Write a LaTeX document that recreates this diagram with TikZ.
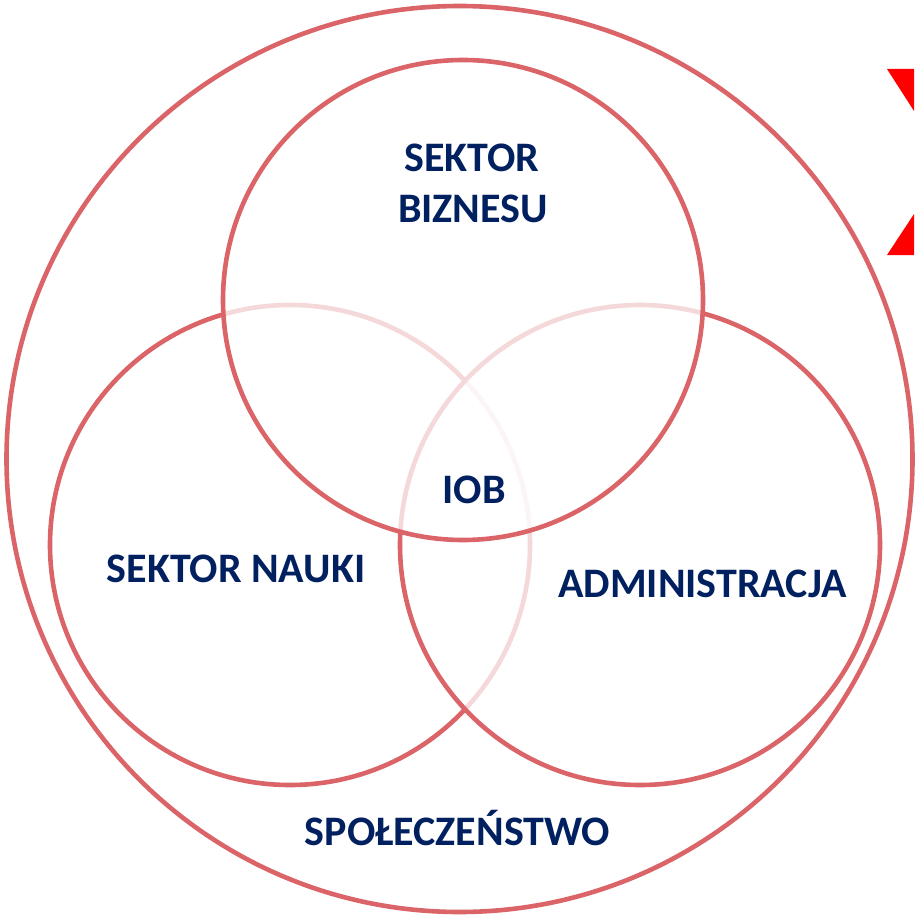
\documentclass[tikz,border=0pt]{standalone}
\usepackage{fontspec}
\setmainfont{Carlito}
\definecolor{ring}{RGB}{218,100,104}
\definecolor{navy}{RGB}{0,32,96}
\definecolor{xred}{RGB}{255,0,0}
\begin{document}
\begin{tikzpicture}[x=1pt,y=-1pt,
  ringc/.style={circle, inner sep=0pt, draw=ring, line width=4.6pt},
  veil/.style={fill=white, fill opacity=0.75},
  lbl/.style={text=navy, font=\bfseries\fontsize{42}{51}\selectfont, anchor=base, inner sep=0pt, align=center}]
\useasboundingbox (0,0) rectangle (914,923);
% outer circle
\node[ringc, minimum size=906pt] (outer) at (459.5,459) {};
% left circle
\node[ringc, minimum size=480pt] (left) at (290,545) {};
% right circle veils left
\node[ringc, veil, minimum size=480pt] (right) at (640,545) {};
% top circle veils both
\node[ringc, veil, minimum size=480pt] (top) at (463,300) {};
% red marks at right edge
\fill[xred] (887,69) -- (914,69) -- (914,111) -- cycle;
\fill[xred] (887,255) -- (914,255) -- (914,214) -- cycle;
% labels
\node[lbl] (biz1) at (472,171) {SEKTOR};
\node[lbl] (biz2) at (473,222) {BIZNESU};
\node[lbl] (iob) at (474,503) {IOB};
\node[lbl] (nauka) at (236,582) {SEKTOR NAUKI};
\node[lbl] (adm) at (702.5,597) {ADMINISTRACJA};
\node[lbl] (spol) at (457.5,845) {SPOŁECZEŃSTWO};
\end{tikzpicture}
\end{document}
